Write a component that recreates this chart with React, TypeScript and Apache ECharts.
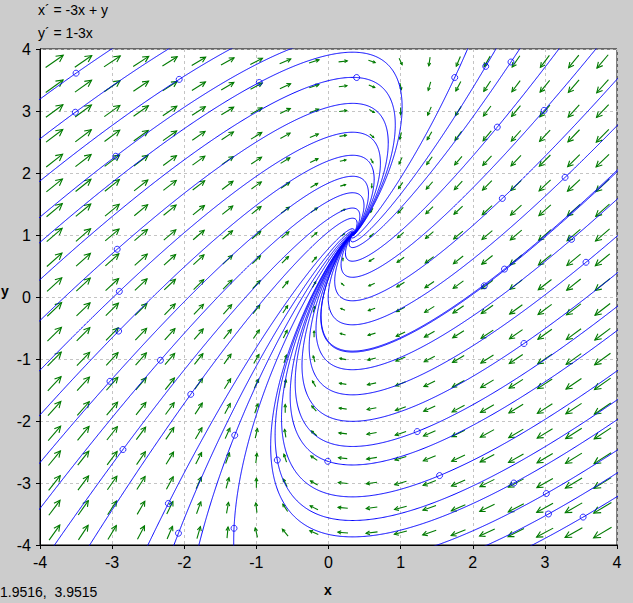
import React, { useEffect, useRef } from "react";
import * as echarts from "echarts";

// ---- chart content ----
const xTickValues = [-4, -3, -2, -1, 0, 1, 2, 3, 4];
const yTickValues = [-4, -3, -2, -1, 0, 1, 2, 3, 4];
const equationTexts = ["x\u00B4 = -3x + y", "y\u00B4 = 1-3x"];
const cursorReadout = "1.9516,  3.9515";
const axisNames = ["x", "y"];
const fieldGrid = [20, 20]; // arrows per column / row

// initial points of the plotted solutions (the small circles)
const startXs = [
  -3.5, -2.07, -3.51, -2.95, -2.93, -2.9, -0.96, 0.39, 1.75, 2.18, 2.53, 2.34, 2.99,
  3.28, 2.41, 3.37, 2.44, 3.57, 2.16, -2.91, -2.33, -3.03, -1.91, -2.85, -1.3, -2.22,
  -2.08, -1.31, -0.71, -0.01, 1.23, 2.71, 1.54, 2.57, 3.02, 3.05, 3.53,
];
const startYs = [
  3.61, 3.51, 2.98, 2.27, 0.77, 0.09, 3.46, 3.54, 3.54, 3.72, 3.79, 2.74, 3.01, 1.93,
  1.59, 0.93, 0.45, 0.56, 0.18, -0.55, -1.02, -1.36, -1.57, -2.46, -2.23, -3.33, -3.81,
  -3.73, -2.63, -2.65, -2.17, -0.75, -2.88, -3.0, -3.17, -3.5, -3.55,
];

// the system shown in the chart's header
const fx = (x: number, y: number) => -3 * x + y;
const fy = (x: number, y: number) => 1 - 3 * x;

const X_MIN = xTickValues[0];
const X_MAX = xTickValues[xTickValues.length - 1];
const Y_MIN = yTickValues[0];
const Y_MAX = yTickValues[yTickValues.length - 1];

function integrate(x0: number, y0: number, dir: number): number[][] {
  const pts: number[][] = [[x0, y0]];
  let x = x0;
  let y = y0;
  let t = 0;
  let lx = x0;
  let ly = y0;
  const f = (a: number, b: number) => [dir * fx(a, b), dir * fy(a, b)];
  for (let i = 0; i < 40000; i++) {
    const k1 = f(x, y);
    const sp = Math.hypot(k1[0], k1[1]);
    if (sp < 1e-5) break;
    const h = Math.min(0.02, 0.004 / sp);
    const k2 = f(x + (h / 2) * k1[0], y + (h / 2) * k1[1]);
    const k3 = f(x + (h / 2) * k2[0], y + (h / 2) * k2[1]);
    const k4 = f(x + h * k3[0], y + h * k3[1]);
    x += (h / 6) * (k1[0] + 2 * k2[0] + 2 * k3[0] + k4[0]);
    y += (h / 6) * (k1[1] + 2 * k2[1] + 2 * k3[1] + k4[1]);
    t += h;
    const out = x < X_MIN - 0.1 || x > X_MAX + 0.1 || y < Y_MIN - 0.1 || y > Y_MAX + 0.1;
    if (Math.hypot(x - lx, y - ly) > 0.008 || out) {
      pts.push([x, y]);
      lx = x;
      ly = y;
    }
    if (out || t > 40) break;
  }
  return pts;
}

function solution(x0: number, y0: number): number[][] {
  const back = integrate(x0, y0, -1).reverse();
  const fwd = integrate(x0, y0, 1);
  return back.concat(fwd.slice(1));
}

function fieldData(): number[][] {
  const [nc, nr] = fieldGrid;
  const cw = (X_MAX - X_MIN) / nc;
  const rh = (Y_MAX - Y_MIN) / nr;
  const raw: number[][] = [];
  let vmax = 0;
  for (let i = 0; i < nc; i++) {
    for (let j = 0; j < nr; j++) {
      const x = X_MIN + cw * (i + 0.5);
      const y = Y_MIN + rh * (j + 0.5);
      const u = fx(x, y);
      const v = fy(x, y);
      const m = Math.hypot(u, v);
      vmax = Math.max(vmax, m);
      raw.push([x, y, u, v, m]);
    }
  }
  return raw.map((r) => [r[0], r[1], r[2], r[3], Math.sqrt(r[4] / vmax)]);
}

export default function App() {
  const ref = useRef<HTMLDivElement>(null);
  useEffect(() => {
    if (!ref.current) return;
    const chart = echarts.init(ref.current, undefined, { renderer: "svg" });
    const font = "Liberation Sans, Arial, sans-serif";
    const ARROW_MAX = 21.5;

    const lineSeries: any[] = startXs.map((sx, k) => ({
      type: "line",
      data: solution(sx, startYs[k]),
      showSymbol: false,
      symbol: "none",
      silent: true,
      clip: true,
      lineStyle: { color: "#0000ff", width: 1 },
      z: 3,
    }));

    const axisCommon = {
      type: "value",
      interval: 1,
      axisLine: { show: true, onZero: false, lineStyle: { color: "#000", width: 1 } },
      axisTick: { show: true, inside: false, length: 4, lineStyle: { color: "#000" } },
      splitLine: { show: true, lineStyle: { color: "#c4c4c4", type: [3, 3], width: 1 } },
      axisLabel: { color: "#000", fontSize: 16, fontFamily: font, margin: 9 },
    };

    chart.setOption({
      animation: false,
      backgroundColor: "#cccccc",
      grid: {
        left: 40,
        right: 16,
        top: 49,
        bottom: 58,
        show: true,
        backgroundColor: "#ffffff",
        borderColor: "#000",
        borderWidth: 1,
      },
      xAxis: { ...axisCommon, min: X_MIN, max: X_MAX, axisLabel: { ...axisCommon.axisLabel, customValues: xTickValues } },
      yAxis: { ...axisCommon, min: Y_MIN, max: Y_MAX, axisLabel: { ...axisCommon.axisLabel, customValues: yTickValues } },
      series: [
        {
          type: "custom",
          data: fieldData(),
          silent: true,
          clip: true,
          z: 2,
          renderItem: (params: any, api: any) => {
            const x = api.value(0);
            const y = api.value(1);
            const u = api.value(2);
            const v = api.value(3);
            const L = api.value(4) * ARROW_MAX;
            const c = api.coord([x, y]);
            const s = api.size([1, 1]);
            let px = u * s[0];
            let py = -v * s[1];
            const n = Math.hypot(px, py);
            if (n === 0 || L < 0.5) return null;
            px /= n;
            py /= n;
            const tail = [c[0] - (px * L) / 2, c[1] - (py * L) / 2];
            const tip = [c[0] + (px * L) / 2, c[1] + (py * L) / 2];
            const h = L * 0.36;
            const a = (27 * Math.PI) / 180;
            const r1 = [px * Math.cos(a) - py * Math.sin(a), px * Math.sin(a) + py * Math.cos(a)];
            const r2 = [px * Math.cos(a) + py * Math.sin(a), -px * Math.sin(a) + py * Math.cos(a)];
            const h1 = [tip[0] - h * r1[0], tip[1] - h * r1[1]];
            const h2 = [tip[0] - h * r2[0], tip[1] - h * r2[1]];
            return {
              type: "group",
              children: [
                {
                  type: "line",
                  shape: { x1: tail[0], y1: tail[1], x2: tip[0], y2: tip[1] },
                  style: { stroke: "#007a00", lineWidth: 1.1 },
                },
                {
                  type: "polyline",
                  shape: { points: [h1, tip, h2] },
                  style: { stroke: "#007a00", fill: "none", lineWidth: 1.1 },
                },
              ],
            };
          },
        },
        ...lineSeries,
        {
          type: "scatter",
          data: startXs.map((sx, k) => [sx, startYs[k]]),
          symbol: "circle",
          symbolSize: 6,
          silent: true,
          itemStyle: { color: "rgba(0,0,0,0)", borderColor: "#0000ff", borderWidth: 1 },
          z: 4,
        },
      ],
      graphic: [
        { type: "text", left: 38, top: 3, style: { text: equationTexts[0], font: `14px ${font}`, fill: "#000" } },
        { type: "text", left: 38, top: 26, style: { text: equationTexts[1], font: `14px ${font}`, fill: "#000" } },
        { type: "text", left: 0, top: 585, style: { text: cursorReadout, font: `14px ${font}`, fill: "#000" } },
        { type: "text", left: 324, top: 583, style: { text: axisNames[0], font: `bold 14px ${font}`, fill: "#000" } },
        { type: "text", left: 1, top: 284, style: { text: axisNames[1], font: `bold 14px ${font}`, fill: "#000" } },
      ],
    });
    return () => chart.dispose();
  }, []);
  return (
    <div
      ref={ref}
      style={{ position: "absolute", left: 0, top: 0, width: 633, height: 603 }}
    />
  );
}
